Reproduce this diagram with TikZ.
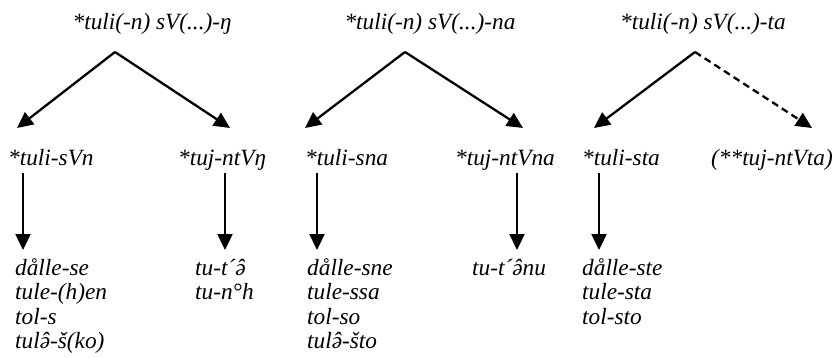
\documentclass[tikz,border=0pt]{standalone}
\usepackage{fontspec}
\setmainfont{Liberation Serif}
\usetikzlibrary{arrows.meta}
\newcommand\schwahat{\accent"02C6 ə}
\begin{document}
\begin{tikzpicture}[x=1pt,y=-1pt,
  lbl/.style={font=\fontsize{23.3}{25}\selectfont\itshape, inner sep=0pt,
    text height=15pt, text depth=4pt},
  arr/.style={line width=2.3pt, -{Triangle[length=16pt,width=15pt]}},
  darr/.style={arr, dash pattern=on 7pt off 4.5pt}]
\useasboundingbox (0,0) rectangle (837,358);

% top labels
\node[lbl, anchor=base] (t1) at (152,30) {*tuli(-n) sV(...)-ŋ};
\node[lbl, anchor=base] (t2) at (430,30) {*tuli(-n) sV(...)-na};
\node[lbl, anchor=base] (t3) at (703,30) {*tuli(-n) sV(...)-ta};

% apexes and arrow ends
\coordinate (a1) at (115,52);
\coordinate (a2) at (405,52);
\coordinate (a3) at (695,52);
\coordinate (e1l) at (17,128);
\coordinate (e1r) at (230,128);
\coordinate (e2l) at (305,128);
\coordinate (e2r) at (523,128);
\coordinate (e3l) at (594,128);
\coordinate (e3r) at (812,128);

% second level labels
\node[lbl, anchor=base west] (s1l) at (8,165) {*tuli-sVn};
\node[lbl, anchor=base west] (s1r) at (178,165) {*tuj-ntVŋ};
\node[lbl, anchor=base west] (s2l) at (305,165) {*tuli-sna};
\node[lbl, anchor=base west] (s2r) at (455,165) {*tuj-ntVna};
\node[lbl, anchor=base west] (s3l) at (582,165) {*tuli-sta};
\node[lbl, anchor=base west] (s3r) at (711,165) {(**tuj-ntVta)};

% vertical arrow ends
\coordinate (v1ls) at (23,173);  \coordinate (v1le) at (23,250);
\coordinate (v1rs) at (225,173); \coordinate (v1re) at (225,250);
\coordinate (v2ls) at (317,173); \coordinate (v2le) at (317,250);
\coordinate (v2rs) at (517,173); \coordinate (v2re) at (517,250);
\coordinate (v3ls) at (599,173); \coordinate (v3le) at (599,250);

% lists
\node[lbl, anchor=base west] (l1a) at (15,275) {dålle-se};
\node[lbl, anchor=base west] (l1b) at (15,299.5) {tule-(h)en};
\node[lbl, anchor=base west] (l1c) at (15,324) {tol-s};
\node[lbl, anchor=base west] (l1d) at (15,348.5) {tul\schwahat-š(ko)};

\node[lbl, anchor=base west] (r1a) at (195,275) {tu-t´\schwahat};
\node[lbl, anchor=base west] (r1b) at (195,299.5) {tu-n°h};

\node[lbl, anchor=base west] (l2a) at (307,275) {dålle-sne};
\node[lbl, anchor=base west] (l2b) at (307,299.5) {tule-ssa};
\node[lbl, anchor=base west] (l2c) at (307,324) {tol-so};
\node[lbl, anchor=base west] (l2d) at (307,348.5) {tul\schwahat-što};

\node[lbl, anchor=base west] (r2a) at (472,275) {tu-t´\schwahat nu};

\node[lbl, anchor=base west] (l3a) at (582,275) {dålle-ste};
\node[lbl, anchor=base west] (l3b) at (582,299.5) {tule-sta};
\node[lbl, anchor=base west] (l3c) at (582,324) {tol-sto};

% arrows
\draw[arr] (a1) -- (e1l);
\draw[arr] (a1) -- (e1r);
\draw[arr] (a2) -- (e2l);
\draw[arr] (a2) -- (e2r);
\draw[arr] (a3) -- (e3l);
\draw[darr] (a3) -- (e3r);

\draw[arr] (v1ls) -- (v1le);
\draw[arr] (v1rs) -- (v1re);
\draw[arr] (v2ls) -- (v2le);
\draw[arr] (v2rs) -- (v2re);
\draw[arr] (v3ls) -- (v3le);
\end{tikzpicture}
\end{document}
